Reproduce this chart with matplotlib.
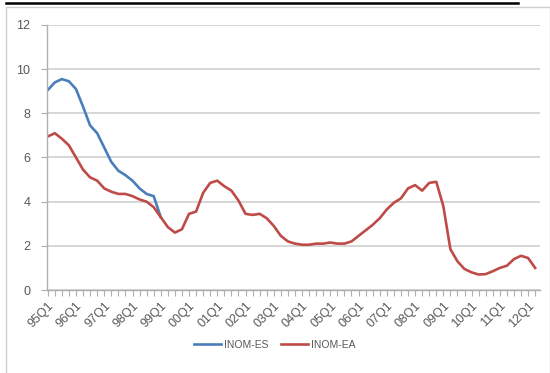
import matplotlib
matplotlib.use("Agg")
import matplotlib.pyplot as plt
from matplotlib.lines import Line2D
from matplotlib.patches import Rectangle

# Quarterly periods 95Q1 .. 12Q2
years = [f"{y % 100:02d}" for y in range(1995, 2013)]
quarters = [f"{yy}Q{q}" for yy in years for q in range(1, 5)][:70]

# INOM-EA (euro area), quarterly
inom_ea = [6.95, 7.1, 6.85, 6.55, 6.0, 5.45, 5.1, 4.95, 4.6, 4.45,
           4.35, 4.35, 4.25, 4.1, 4.0, 3.75, 3.3, 2.85, 2.6, 2.75,
           3.45, 3.55, 4.4, 4.85, 4.95, 4.7, 4.5, 4.05, 3.45, 3.4,
           3.45, 3.25, 2.9, 2.45, 2.2, 2.1, 2.05, 2.05, 2.1, 2.1,
           2.15, 2.1, 2.1, 2.2, 2.45, 2.7, 2.95, 3.25, 3.65, 3.95,
           4.15, 4.6, 4.75, 4.5, 4.85, 4.9, 3.8, 1.85, 1.3, 0.95,
           0.8, 0.7, 0.72, 0.85, 1.0, 1.1, 1.4, 1.55, 1.45, 1.0]

# INOM-ES (Spain), up to the point where it joins the euro-area series
inom_es = [9.05, 9.4, 9.55, 9.45, 9.1, 8.3, 7.45, 7.1, 6.45, 5.8,
           5.4, 5.2, 4.95, 4.6, 4.35, 4.25, 3.3]

label_every = 4

BLUE = "#4a7ebb"
RED = "#be4b48"
TXT = "#595959"

plt.rcParams["font.family"] = ["Liberation Sans", "DejaVu Sans"]

fig = plt.figure(figsize=(5.5, 3.73), dpi=100)
ax = fig.add_axes([0.0855, 0.2225, 0.8965, 0.7105])

x_es = list(range(len(inom_es)))
x_ea = list(range(len(inom_ea)))
ax.plot(x_es, inom_es, color=BLUE, lw=1.9, label="INOM-ES", solid_joinstyle="round")
ax.plot(x_ea, inom_ea, color=RED, lw=1.9, label="INOM-EA", solid_joinstyle="round")

ax.set_ylim(0, 12)
ax.set_yticks(range(0, 13, 2))
ax.set_xlim(-0.1, 69.7)
ax.set_xticks(x_ea)
ax.set_xticklabels([q if i % label_every == 0 else "" for i, q in enumerate(quarters)],
                   rotation=45, ha="right", va="top", rotation_mode="anchor")

ax.grid(axis="y", color="#d0d0d0", lw=1.2)
ax.set_axisbelow(True)
for s in ["top", "right"]:
    ax.spines[s].set_visible(False)
for s in ["left", "bottom"]:
    ax.spines[s].set_color("#b0b0b0")
    ax.spines[s].set_linewidth(1.0)

ax.tick_params(axis="x", length=4, color="#b0b0b0", width=0.8, labelsize=9,
               labelcolor=TXT, pad=3)
ax.tick_params(axis="y", length=4, color="#b0b0b0", width=0.8, labelsize=9,
               labelcolor=TXT, pad=8)

leg = fig.legend(loc="center", bbox_to_anchor=(0.5, 0.075), ncol=2, frameon=False,
                 fontsize=7.5, handlelength=2.6, columnspacing=1.2, handletextpad=0.3)
for t in leg.get_texts():
    t.set_color(TXT)

# Outer chart frame and the rule above it
fig.add_artist(Rectangle((0.01, -0.01), 0.99, 0.99, transform=fig.transFigure,
                         fill=False, edgecolor="#cfcfcf", lw=1.0))
fig.add_artist(Line2D([0.01, 0.942], [0.992, 0.992], transform=fig.transFigure,
                      color="black", lw=1.8))

fig.savefig("out.png", dpi=100)
